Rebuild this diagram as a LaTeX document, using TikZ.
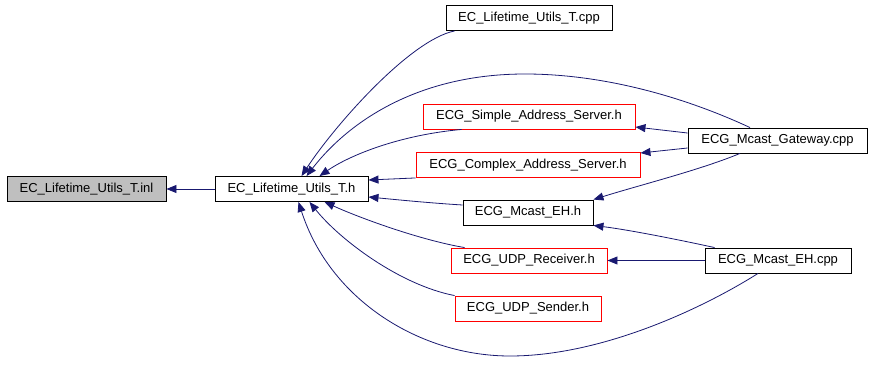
\documentclass[tikz,border=0pt]{standalone}
\usepackage{fontspec}
\setmainfont{Liberation Sans}
\usetikzlibrary{arrows.meta}
\definecolor{edgecol}{HTML}{191970}
\definecolor{grayfill}{HTML}{BFBFBF}
\tikzset{
  box/.style={draw=black, line width=0.9pt, minimum height=25pt, inner sep=0pt, font=\fontsize{13}{15}\selectfont, fill=white},
  redbox/.style={box, draw=red},
  dep/.style={draw=edgecol, line width=0.8pt, -{Triangle[length=10pt,width=8pt]}},
}
\begin{document}
\begin{tikzpicture}[x=1pt,y=-1pt]
\useasboundingbox (0,0) rectangle (872,377);
\node[box, fill=grayfill, minimum width=159pt] (inl) at (86.5,189) {EC\_Lifetime\_Utils\_T.inl};
\node[box, minimum width=153pt] (h) at (291.5,189) {EC\_Lifetime\_Utils\_T.h};
\node[box, minimum width=166pt] (cpp) at (529,18) {EC\_Lifetime\_Utils\_T.cpp};
\node[redbox, minimum width=212pt] (simple) at (529,116.5) {ECG\_Simple\_Address\_Server.h};
\node[box, minimum width=179pt] (gw) at (777.5,140.5) {ECG\_Mcast\_Gateway.cpp};
\node[redbox, minimum width=224pt] (complex) at (528,165) {ECG\_Complex\_Address\_Server.h};
\node[box, minimum width=130pt] (ehh) at (528,212.5) {ECG\_Mcast\_EH.h};
\node[redbox, minimum width=156pt] (recv) at (529,260.5) {ECG\_UDP\_Receiver.h};
\node[box, minimum width=146pt] (ehcpp) at (778,260.5) {ECG\_Mcast\_EH.cpp};
\node[redbox, minimum width=146pt] (send) at (528,308.5) {ECG\_UDP\_Sender.h};

\draw[dep] (h.west) -- (inl.east);
\draw[dep] ([xshift=9pt]cpp.south west) .. controls (410,40) and (335,125) .. ([xshift=10pt]h.north);
\draw[dep] ([xshift=-27.5pt]gw.north) .. controls (680,95) and (600,74) .. (525,74)
  .. controls (420,74) and (350,120) .. ([xshift=15pt]h.north);
\draw[dep] ([xshift=39pt]simple.south west) .. controls (400,135) and (350,155) .. ([xshift=28pt]h.north);
\draw[dep] (complex.south west) -- ([yshift=9pt]h.east);
\draw[dep] ([yshift=7.5pt]ehh.west) .. controls (430,203) and (400,200) .. ([yshift=-8pt]h.east);
\draw[dep] ([xshift=14pt]recv.north west) .. controls (420,240) and (360,218) .. ([xshift=33pt]h.south);
\draw[dep] (send.north west) .. controls (400,285) and (340,240) .. ([xshift=18pt]h.south);
\draw[dep] ([xshift=-20pt]ehcpp.south) .. controls (700,310) and (600,356) .. (510,356)
  .. controls (420,356) and (330,300) .. ([xshift=7pt]h.south);
\draw[dep] ([yshift=7.5pt]gw.west) -- ([yshift=-10.5pt]simple.east);
\draw[dep] ([yshift=-7.5pt]gw.west) -- ([yshift=12pt]complex.east);
\draw[dep] ([xshift=-37.5pt]gw.south) .. controls (700,170) and (640,185) .. (ehh.north east);
\draw[dep] ([xshift=10pt]ehcpp.north west) .. controls (680,240) and (630,230) .. (ehh.south east);
\draw[dep] (ehcpp.west) -- (recv.east);
\end{tikzpicture}
\end{document}
